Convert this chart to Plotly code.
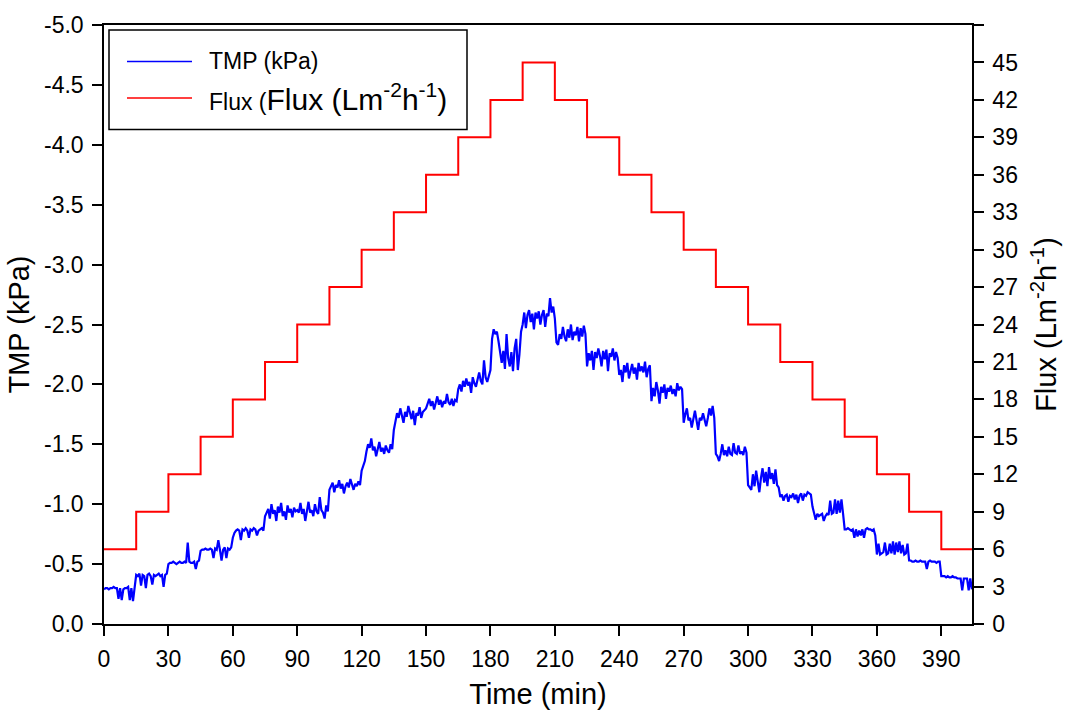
import plotly.graph_objects as go

# ---------------- data ----------------
step_minutes = 15
sample_minutes = 0.75

flux_levels = [6, 9, 12, 15, 18, 21, 24, 27, 30, 33, 36, 39, 42, 45,
               42, 39, 36, 33, 30, 27, 24, 21, 18, 15, 12, 9, 6]
flux_end_minute = 405

# TMP (kPa), 20 readings per 15-min flux step
tmp_steps = [
    [-0.29,-0.30,-0.30,-0.29,-0.30,-0.30,-0.31,-0.30,-0.30,-0.21,-0.30,-0.20,-0.29,-0.30,-0.30,-0.31,-0.20,-0.30,-0.19,-0.30],
    [-0.41,-0.40,-0.42,-0.32,-0.41,-0.40,-0.30,-0.41,-0.42,-0.40,-0.33,-0.41,-0.40,-0.41,-0.42,-0.40,-0.41,-0.31,-0.41,-0.42],
    [-0.50,-0.51,-0.51,-0.52,-0.51,-0.50,-0.51,-0.52,-0.51,-0.51,-0.52,-0.51,-0.68,-0.52,-0.51,-0.51,-0.52,-0.46,-0.52,-0.53],
    [-0.61,-0.62,-0.62,-0.63,-0.62,-0.62,-0.63,-0.62,-0.55,-0.63,-0.62,-0.70,-0.62,-0.53,-0.62,-0.64,-0.55,-0.63,-0.62,-0.64],
    [-0.72,-0.76,-0.78,-0.79,-0.78,-0.70,-0.79,-0.78,-0.80,-0.78,-0.72,-0.79,-0.78,-0.80,-0.79,-0.74,-0.78,-0.79,-0.80,-0.78],
    [-0.90,-0.93,-0.96,-0.88,-1.00,-0.92,-0.95,-0.86,-0.98,-0.93,-1.01,-0.90,-0.94,-0.87,-0.99,-0.93,-0.96,-0.89,-0.97,-0.94],
    [-0.95,-0.93,-1.01,-0.92,-0.96,-0.86,-0.94,-1.02,-0.93,-0.95,-0.90,-1.00,-0.94,-0.92,-1.06,-0.95,-0.93,-0.88,-0.99,-0.94],
    [-1.12,-1.15,-1.18,-1.10,-1.16,-1.14,-1.20,-1.13,-1.17,-1.09,-1.15,-1.18,-1.14,-1.21,-1.16,-1.12,-1.17,-1.15,-1.19,-1.16],
    [-1.28,-1.32,-1.36,-1.44,-1.50,-1.47,-1.55,-1.45,-1.48,-1.40,-1.46,-1.52,-1.44,-1.47,-1.42,-1.49,-1.45,-1.43,-1.50,-1.46],
    [-1.62,-1.70,-1.76,-1.72,-1.80,-1.74,-1.68,-1.77,-1.73,-1.82,-1.75,-1.71,-1.78,-1.66,-1.76,-1.74,-1.81,-1.72,-1.77,-1.79],
    [-1.80,-1.84,-1.88,-1.82,-1.86,-1.79,-1.85,-1.90,-1.83,-1.87,-1.81,-1.86,-1.84,-1.92,-1.85,-1.83,-1.88,-1.82,-1.87,-1.86],
    [-1.96,-2.00,-1.94,-2.03,-1.98,-2.05,-1.99,-2.02,-1.93,-2.06,-2.01,-1.98,-2.04,-2.10,-2.03,-2.00,-2.20,-2.06,-2.02,-2.07],
    [-2.12,-2.38,-2.46,-2.42,-2.44,-2.36,-2.25,-2.18,-2.28,-2.13,-2.42,-2.22,-2.15,-2.27,-2.11,-2.30,-2.38,-2.12,-2.25,-2.44],
    [-2.50,-2.60,-2.47,-2.58,-2.62,-2.52,-2.59,-2.46,-2.60,-2.55,-2.61,-2.50,-2.58,-2.62,-2.48,-2.59,-2.57,-2.72,-2.60,-2.65],
    [-2.55,-2.35,-2.33,-2.42,-2.38,-2.48,-2.40,-2.36,-2.46,-2.39,-2.50,-2.37,-2.44,-2.41,-2.48,-2.36,-2.47,-2.40,-2.49,-2.42],
    [-2.15,-2.26,-2.20,-2.28,-2.12,-2.27,-2.22,-2.30,-2.24,-2.15,-2.28,-2.21,-2.29,-2.11,-2.26,-2.23,-2.30,-2.20,-2.27,-2.22],
    [-2.08,-2.12,-2.02,-2.16,-2.10,-2.18,-2.05,-2.12,-2.17,-2.09,-2.14,-2.04,-2.18,-2.11,-2.15,-2.10,-2.19,-2.06,-2.13,-2.16],
    [-1.86,-1.97,-1.90,-2.02,-1.95,-1.84,-1.98,-1.93,-2.00,-1.88,-1.97,-1.94,-1.99,-1.92,-1.96,-1.90,-2.01,-1.95,-1.98,-1.96],
    [-1.68,-1.75,-1.80,-1.70,-1.72,-1.64,-1.71,-1.78,-1.70,-1.62,-1.72,-1.70,-1.76,-1.71,-1.65,-1.72,-1.80,-1.74,-1.82,-1.72],
    [-1.42,-1.40,-1.36,-1.42,-1.50,-1.41,-1.45,-1.40,-1.48,-1.42,-1.41,-1.51,-1.43,-1.42,-1.49,-1.42,-1.44,-1.41,-1.48,-1.43],
    [-1.16,-1.14,-1.12,-1.25,-1.15,-1.28,-1.20,-1.10,-1.22,-1.30,-1.18,-1.27,-1.15,-1.31,-1.21,-1.26,-1.17,-1.29,-1.16,-1.14],
    [-1.06,-1.08,-1.03,-1.07,-1.08,-1.02,-1.07,-1.06,-1.09,-1.04,-1.08,-1.01,-1.07,-1.09,-1.03,-1.08,-1.07,-1.10,-1.09,-1.08],
    [-0.98,-0.93,-0.87,-0.92,-0.90,-0.91,-0.92,-0.86,-0.90,-0.92,-0.91,-1.03,-0.92,-0.93,-1.04,-0.92,-1.03,-0.93,-1.04,-0.92],
    [-0.79,-0.79,-0.80,-0.79,-0.78,-0.79,-0.72,-0.79,-0.73,-0.78,-0.74,-0.79,-0.72,-0.79,-0.80,-0.79,-0.79,-0.78,-0.79,-0.74],
    [-0.58,-0.67,-0.58,-0.59,-0.60,-0.68,-0.58,-0.59,-0.67,-0.59,-0.69,-0.58,-0.68,-0.60,-0.69,-0.59,-0.66,-0.58,-0.59,-0.67],
    [-0.53,-0.53,-0.52,-0.52,-0.53,-0.52,-0.52,-0.53,-0.52,-0.52,-0.52,-0.46,-0.52,-0.53,-0.52,-0.52,-0.52,-0.51,-0.52,-0.52],
    [-0.40,-0.40,-0.40,-0.39,-0.40,-0.39,-0.39,-0.40,-0.39,-0.39,-0.38,-0.38,-0.38,-0.28,-0.38,-0.38,-0.38,-0.28,-0.38,-0.29],
]

x_ticks = [0, 30, 60, 90, 120, 150, 180, 210, 240, 270, 300, 330, 360, 390]
tmp_ticks = [-5.0, -4.5, -4.0, -3.5, -3.0, -2.5, -2.0, -1.5, -1.0, -0.5, 0.0]
tmp_tick_labels = ["-5.0", "-4.5", "-4.0", "-3.5", "-3.0", "-2.5", "-2.0",
                   "-1.5", "-1.0", "-0.5", "0.0"]
flux_ticks = [0, 3, 6, 9, 12, 15, 18, 21, 24, 27, 30, 33, 36, 39, 42, 45, 48]
flux_tick_labels = ["0", "3", "6", "9", "12", "15", "18", "21", "24", "27",
                    "30", "33", "36", "39", "42", "45", " "]

# ---------------- build series ----------------
tmp_time, tmp_vals = [], []
for k, seg in enumerate(tmp_steps):
    for i, v in enumerate(seg):
        tmp_time.append(k * step_minutes + i * sample_minutes)
        tmp_vals.append(v)

flux_time = [k * step_minutes for k in range(len(flux_levels))] + [flux_end_minute]
flux_vals = flux_levels + [flux_levels[-1]]

FONT = "Liberation Sans, Arial, Helvetica, sans-serif"
W, H = 1074, 717
ML, MR, MT, MB = 104, 102, 18, 91
PW, PH = W - ML - MR, H - MT - MB

def px(x):
    return (x - ML) / PW

def py(y):
    return (H - MB - y) / PH

fig = go.Figure()
fig.add_trace(go.Scatter(x=tmp_time, y=tmp_vals, mode="lines",
                         line=dict(color="#0000FF", width=2.2),
                         name="TMP (kPa)", yaxis="y"))
fig.add_trace(go.Scatter(x=flux_time, y=flux_vals, mode="lines",
                         line=dict(color="#FF0000", width=2, shape="hv"),
                         name="Flux", yaxis="y2"))

TICK_SIZE = 23
TITLE_SIZE = 29

axis_common = dict(showgrid=False, zeroline=False, ticks="outside", ticklen=10,
                   tickwidth=1.5, tickcolor="black", showline=True,
                   linecolor="black", linewidth=1.5,
                   tickfont=dict(family=FONT, size=TICK_SIZE, color="black"))

fig.update_layout(
    width=W, height=H, autosize=False,
    margin=dict(l=ML, r=MR, t=MT, b=MB, pad=0),
    paper_bgcolor="white", plot_bgcolor="white",
    showlegend=False,
    xaxis=dict(range=[0, 404.3], tickmode="array", tickvals=x_ticks,
               mirror=True, ticklabelstandoff=4,
               title=dict(text="Time (min)", font=dict(family=FONT, size=TITLE_SIZE, color="black"),
                          standoff=12),
               **axis_common),
    yaxis=dict(range=[0, -5], tickmode="array", tickvals=tmp_ticks,
               ticktext=tmp_tick_labels, ticklabelstandoff=4,
               title=dict(text="TMP (kPa)", font=dict(family=FONT, size=TITLE_SIZE, color="black"),
                          standoff=6),
               **axis_common),
    yaxis2=dict(range=[0, 48], tickmode="array", tickvals=flux_ticks,
                ticktext=flux_tick_labels, overlaying="y", side="right",
                ticklabelstandoff=4,
                title=dict(text="Flux (Lm<sup>-2</sup>h<sup>-1</sup>)",
                           font=dict(family=FONT, size=TITLE_SIZE, color="black"),
                           standoff=19),
                **axis_common),
)

# manual legend box
fig.add_shape(type="rect", xref="paper", yref="paper",
              x0=px(109), x1=px(467), y0=py(124), y1=py(23),
              line=dict(color="black", width=1.5), fillcolor="white", layer="above")
fig.add_shape(type="line", xref="paper", yref="paper",
              x0=px(127), x1=px(192), y0=py(55), y1=py(55),
              line=dict(color="#0000FF", width=1.5))
fig.add_shape(type="line", xref="paper", yref="paper",
              x0=px(127), x1=px(192), y0=py(92), y1=py(92),
              line=dict(color="#FF0000", width=1.5))
fig.add_annotation(xref="paper", yref="paper", x=px(207), y=py(55),
                   xanchor="left", yanchor="middle", showarrow=False,
                   text="TMP (kPa)", font=dict(family=FONT, size=23, color="black"))
fig.add_annotation(xref="paper", yref="paper", x=px(207), y=py(91),
                   xanchor="left", yanchor="middle", showarrow=False,
                   text='Flux (<span style="font-size:30px">Flux (Lm<sup>-2</sup>h<sup>-1</sup>)</span>',
                   font=dict(family=FONT, size=23, color="black"))

fig.write_html("out.html")
